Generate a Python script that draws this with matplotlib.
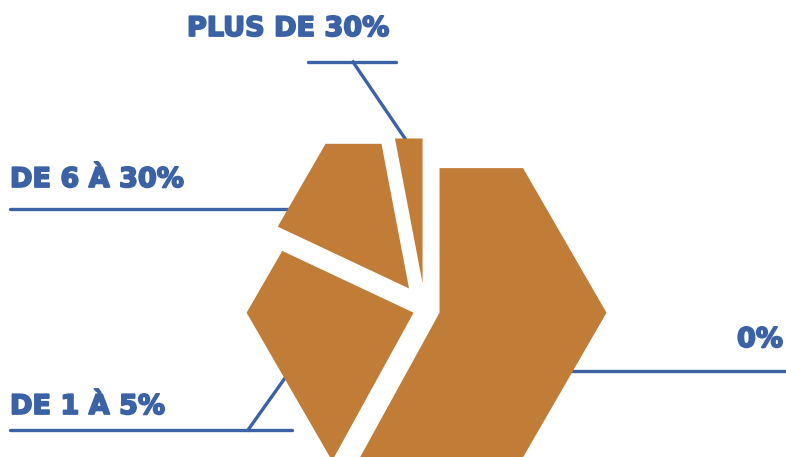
import numpy as np
import matplotlib.pyplot as plt
import matplotlib.patheffects as pe
from matplotlib.patches import Polygon

# share of each group (pie drawn clockwise from 12 o'clock)
labels = ['0%', 'DE 1 À 5%', 'DE 6 À 30%', 'PLUS DE 30%']
values = [58, 24, 15, 3]

brown = '#C17D37'
blue = '#3A62A5'

W, H = 786, 457
fig = plt.figure(figsize=(W / 100, H / 100), dpi=100)
ax = fig.add_axes([0, 0, 1, 1])
ax.set_xlim(0, W)
ax.set_ylim(H, 0)
ax.axis('off')

R = 167          # hexagon circumradius (px)
cx, cy = 425, 309
explode = [15, 12, 26, 26]


def hex_r(theta):
    # distance to the edge of a hexagon with corners at 0, 60, 120... deg
    a = R * np.cos(np.radians(30))
    t = (theta % 60) - 30
    return a / np.cos(np.radians(t))


def slice_pts(x0, y0, a1, a2):
    # a1 > a2, going clockwise
    angs = [a1]
    k = np.floor(a1 / 60) * 60
    while k > a2:
        if k < a1:
            angs.append(k)
        k -= 60
    angs.append(a2)
    pts = [(x0, y0)]
    for a in angs:
        r = hex_r(a)
        pts.append((x0 + r * np.cos(np.radians(a)), y0 - r * np.sin(np.radians(a))))
    return pts


total = sum(values)
start = 90.0
for v, e in zip(values, explode):
    span = 360.0 * v / total
    end = start - span
    mid = np.radians((start + end) / 2)
    x0 = cx + e * np.cos(mid)
    y0 = cy - e * np.sin(mid)
    ax.add_patch(Polygon(slice_pts(x0, y0, start, end), closed=True,
                         facecolor=brown, edgecolor='none', zorder=3))
    start = end

lw = 2.4
# leader lines
ax.plot([308, 396], [62, 62], color=blue, lw=lw, solid_capstyle='round', zorder=1)
ax.plot([353, 406], [62, 140], color=blue, lw=lw, zorder=1)
ax.plot([10, 300], [209, 209], color=blue, lw=lw, solid_capstyle='round', zorder=1)
ax.plot([10, 292], [430, 430], color=blue, lw=lw, solid_capstyle='round', zorder=1)
ax.plot([248, 300], [430, 357], color=blue, lw=lw, zorder=1)
ax.plot([560, 786], [371, 371], color=blue, lw=lw, zorder=1)

font = dict(color=blue, fontsize=19.5, fontweight='bold', family='DejaVu Sans',
            path_effects=[pe.withStroke(linewidth=1.3, foreground=blue)])
ax.text(187, 29, labels[3], ha='left', va='center', **font)
ax.text(10, 180, labels[2], ha='left', va='center', **font)
ax.text(10, 407, labels[1], ha='left', va='center', **font)
ax.text(783, 340, labels[0], ha='right', va='center', **font)

fig.savefig('out.png', dpi=100, facecolor='white')
